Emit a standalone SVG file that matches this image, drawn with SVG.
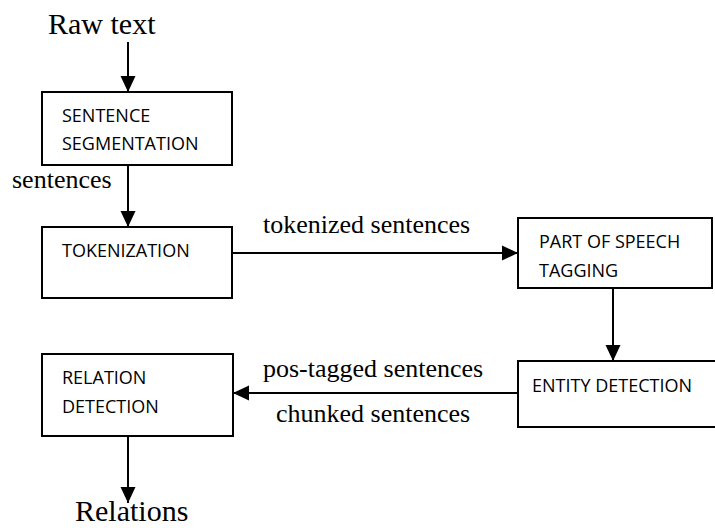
<svg xmlns="http://www.w3.org/2000/svg" width="715" height="528" viewBox="0 0 715 528">
  <style>
    .box { fill: #ffffff; stroke: #000000; stroke-width: 2; }
    .lbl { font-family: "Open Sans", "Noto Sans", sans-serif; font-size: 18px; fill: #000000; }
    .io { font-family: "Liberation Serif", "Times New Roman", serif; font-size: 30px; fill: #000000; }
    .edge { font-family: "Liberation Serif", "Times New Roman", serif; font-size: 26px; fill: #000000; }
    .conn { fill: none; stroke: #000000; stroke-width: 2; }
  </style>
  <defs>
    <marker id="arrow" markerUnits="userSpaceOnUse" markerWidth="16" markerHeight="16" viewBox="0 0 16 16" refX="16" refY="8" orient="auto">
      <path d="M0,0.5 L16,8 L0,15.5 Z" fill="#000000"/>
    </marker>
  </defs>

  <rect width="715" height="528" fill="#ffffff"/>

  <!-- input / output labels -->
  <text class="io" x="48" y="34">Raw text</text>
  <text class="io" x="75" y="521">Relations</text>

  <!-- processing stages -->
  <g id="sentence-segmentation">
    <rect class="box" x="42" y="92" width="190" height="73"/>
    <text class="lbl" x="62" y="122">SENTENCE</text>
    <text class="lbl" x="62" y="150">SEGMENTATION</text>
  </g>
  <g id="tokenization">
    <rect class="box" x="42" y="227" width="190" height="71"/>
    <text class="lbl" x="62" y="257">TOKENIZATION</text>
  </g>
  <g id="pos-tagging">
    <rect class="box" x="518" y="218" width="194" height="70"/>
    <text class="lbl" x="539" y="248">PART OF SPEECH</text>
    <text class="lbl" x="539" y="277">TAGGING</text>
  </g>
  <g id="entity-detection">
    <rect class="box" x="518" y="361" width="200" height="66"/>
    <text class="lbl" x="532" y="392">ENTITY DETECTION</text>
  </g>
  <g id="relation-detection">
    <rect class="box" x="42" y="354" width="191" height="82"/>
    <text class="lbl" x="62" y="384">RELATION</text>
    <text class="lbl" x="62" y="413">DETECTION</text>
  </g>

  <!-- connectors -->
  <g id="connectors">
    <line class="conn" x1="128" y1="42" x2="128" y2="92" marker-end="url(#arrow)"/>
    <line class="conn" x1="128" y1="165" x2="128" y2="227" marker-end="url(#arrow)"/>
    <line class="conn" x1="232" y1="253" x2="518" y2="253" marker-end="url(#arrow)"/>
    <line class="conn" x1="613" y1="288" x2="613" y2="361" marker-end="url(#arrow)"/>
    <line class="conn" x1="518" y1="393" x2="233" y2="393" marker-end="url(#arrow)"/>
    <line class="conn" x1="128" y1="436" x2="128" y2="503" marker-end="url(#arrow)"/>
    <text class="edge" x="12" y="188">sentences</text>
    <text class="edge" x="263" y="233">tokenized sentences</text>
    <text class="edge" x="263" y="377">pos-tagged sentences</text>
    <text class="edge" x="276" y="422">chunked sentences</text>
  </g>
</svg>
